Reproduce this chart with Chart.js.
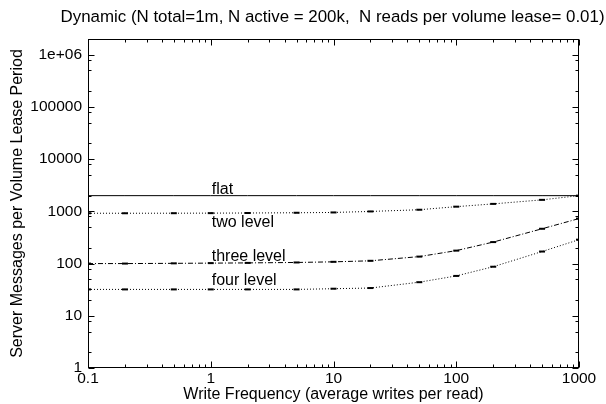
<!DOCTYPE html>
<html>
<head>
<meta charset="utf-8">
<script src="https://cdn.jsdelivr.net/npm/chart.js@4/dist/chart.umd.min.js"></script>
<style>
  html, body { margin: 0; padding: 0; background: #fff; }
  #box { width: 606px; height: 404px; }
</style>
</head>
<body>
<div id="box"><canvas id="grafico"></canvas></div>
<script>
const titulo = 'Dynamic (N total=1m, N active = 200k,  N reads per volume lease= 0.01)';

// write frequency (average writes per read)
const freq = [0.1, 0.2, 0.5, 1, 2, 5, 10, 20, 50, 100, 200, 500, 1000];

// server messages per volume lease period
const flat = [2000, 2000, 2000, 2000, 2000, 2000, 2000, 2000, 2000, 2000, 2000, 2000, 2000];
const twoLevel = [920, 920, 922, 925, 930, 940, 953, 996, 1074, 1230, 1390, 1660, 2000];
const threeLevel = [100, 100, 101, 102, 103, 105, 108, 113, 136, 177, 258, 464, 728];
const fourLevel = [32, 32, 32, 32, 32, 32, 33, 34, 44, 58, 87, 170, 287];

const xTicks = [0.1, 1, 10, 100, 1000];
const xTickLabels = ['0.1', '1', '10', '100', '1000'];
const yTicks = [1, 10, 100, 1000, 10000, 100000, 1000000];
const yTickLabels = ['1', '10', '100', '1000', '10000', '100000', '1e+06'];

// curve names written next to each line
const curveNames = ['flat', 'two level', 'three level', 'four level'];
const curveNameX = [1, 1, 1, 1];
const curveNameY = [2150, 500, 112, 39];

const fam = 'Liberation Sans, Arial, sans-serif';

// frame round the plot with inward tics on every side, title and curve names
const moldura = {
  id: 'moldura',
  afterDraw(chart) {
    const {ctx, chartArea: a, scales: {x, y}} = chart;
    const L = Math.round(a.left) + 0.5, R = Math.round(a.right) - 0.5;
    const T = Math.round(a.top) + 0.5, B = Math.round(a.bottom) - 0.5;
    ctx.save();
    ctx.strokeStyle = '#000';
    ctx.lineWidth = 1;
    ctx.strokeRect(L, T, R - L, B - T);

    ctx.beginPath();
    for (let d = 0.1; d <= 1000; d *= 10) {
      for (let m = 1; m <= 9; m++) {
        const v = d * m;
        if (v > 1000 * 1.0001) break;
        const px = Math.round(x.getPixelForValue(v)) + 0.5;
        const len = m == 1 ? 6 : 3;
        ctx.moveTo(px, B); ctx.lineTo(px, B - len);
        ctx.moveTo(px, T); ctx.lineTo(px, T + len);
      }
    }
    for (let d = 1; d <= 1000000; d *= 10) {
      [1, 2, 5, 8].forEach(m => {
        const v = d * m;
        if (v > 2000000) return;
        const py = Math.round(y.getPixelForValue(v)) + 0.5;
        const len = m == 1 ? 6 : 3;
        ctx.moveTo(L, py); ctx.lineTo(L + len, py);
        ctx.moveTo(R, py); ctx.lineTo(R - len, py);
      });
    }
    ctx.stroke();

    ctx.fillStyle = '#000';
    ctx.font = '16.9px ' + fam;
    ctx.textAlign = 'center';
    ctx.textBaseline = 'middle';
    ctx.fillText(titulo, (a.left + a.right) / 2 - 1, 17);

    ctx.font = '16px ' + fam;
    ctx.textAlign = 'left';
    ctx.textBaseline = 'alphabetic';
    curveNames.forEach((nome, i) => {
      ctx.fillText(nome, x.getPixelForValue(curveNameX[i]) + 1, y.getPixelForValue(curveNameY[i]));
    });
    ctx.restore();
  }
};

const serie = (data, dash, marca) => ({
  data: data,
  borderColor: '#000',
  backgroundColor: '#000',
  borderWidth: 1,
  borderDash: dash,
  pointStyle: 'line',
  pointRadius: marca,
  pointBorderWidth: 2,
  pointBorderColor: '#000',
  pointHoverRadius: 0,
  tension: 0,
  fill: false
});

const canvas = document.getElementById('grafico');
const ctx = canvas.getContext('2d');
const meuGrafico = new Chart(ctx, {
  type: 'line',
  data: {
    labels: freq,
    datasets: [
      serie(flat, [], 0),
      serie(twoLevel, [1, 2], 3),
      serie(threeLevel, [5, 2, 1, 2], 3),
      serie(fourLevel, [1, 2], 3)
    ]
  },
  options: {
    responsive: true,
    maintainAspectRatio: false,
    animation: false,
    events: [],
    layout: { padding: { left: 0, right: 27, top: 39, bottom: 0 } },
    plugins: {
      legend: { display: false },
      tooltip: { enabled: false },
      title: { display: false }
    },
    scales: {
      x: {
        type: 'logarithmic',
        min: 0.1,
        max: 1000,
        afterFit: s => { s.height = 36; },
        afterBuildTicks: s => { s.ticks = xTicks.map(v => ({ value: v })); },
        grid: { display: false, drawTicks: false },
        border: { display: false },
        ticks: {
          color: '#000',
          font: { family: fam, size: 15.5 },
          padding: 1,
          autoSkip: false,
          maxRotation: 0,
          callback: (v, i) => xTickLabels[i]
        },
        title: {
          display: true,
          text: 'Write Frequency (average writes per read)',
          color: '#000',
          font: { family: fam, size: 16 },
          padding: { top: 0, bottom: 0 }
        }
      },
      y: {
        type: 'logarithmic',
        min: 1,
        max: 2000000,
        afterFit: s => { s.width = 88; },
        afterBuildTicks: s => { s.ticks = yTicks.map(v => ({ value: v })); },
        grid: { display: false, drawTicks: false },
        border: { display: false },
        ticks: {
          color: '#000',
          font: { family: fam, size: 15.5 },
          padding: 6,
          autoSkip: false,
          callback: (v, i) => yTickLabels[i]
        },
        title: {
          display: true,
          text: 'Server Messages per Volume Lease Period',
          color: '#000',
          font: { family: fam, size: 16 },
          padding: { top: 8, bottom: 0 }
        }
      }
    }
  },
  plugins: [moldura]
});
</script>
</body>
</html>
